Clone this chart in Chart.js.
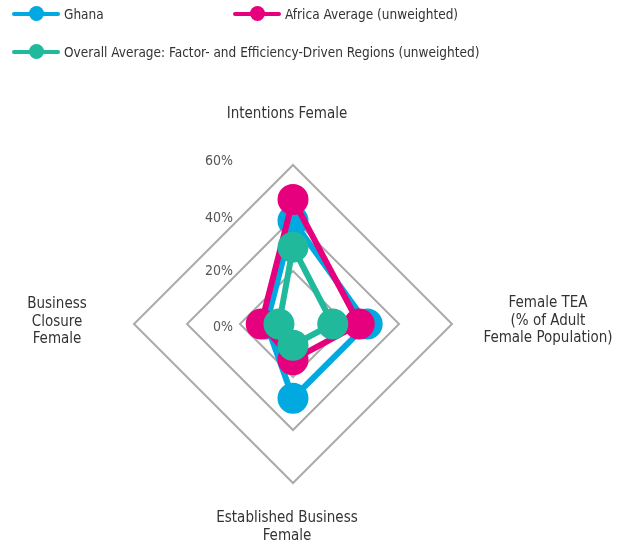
<!DOCTYPE html>
<html>
<head>
<meta charset="utf-8">
<script src="https://cdn.jsdelivr.net/npm/chart.js@4.4.0/dist/chart.umd.min.js"></script>
<style>
  html, body { margin: 0; padding: 0; background: #fff; }
  #wrap { position: relative; width: 627px; height: 547px; }
  #legend { position: absolute; left: 0; top: 0; width: 627px; height: 70px;
    font-family: "Liberation Sans Narrow", "DejaVu Sans Condensed", "Roboto Condensed", sans-serif;
    font-size: 13.5px; color: #333; }
  .item { position: absolute; height: 16px; }
  .item .line { position: absolute; left: 0; top: 6px; width: 48px; height: 4px; border-radius: 2px; }
  .item .dot { position: absolute; left: 17px; top: 0px; width: 15px; height: 15px; border-radius: 50%; }
  .item .txt { position: absolute; left: 52px; top: -2px; white-space: nowrap; line-height: 20px; }
</style>
</head>
<body>
<div id="wrap">
  <canvas id="c" width="627" height="547"></canvas>
  <div id="legend"></div>
</div>
<script>
const categories = ["Intentions Female", "Female TEA (% of Adult Female Population)", "Established Business Female", "Business Closure Female"];
const categoryLines = [["Intentions Female"], ["Female TEA", "(% of Adult", "Female Population)"], ["Established Business", "Female"], ["Business", "Closure", "Female"]];
const seriesNames = ["Ghana", "Africa Average (unweighted)", "Overall Average: Factor- and Efficiency-Driven Regions (unweighted)"];
const ghana = [39, 28, 28, 10];
const africa = [47, 25, 13.5, 12];
const overall = [29, 15, 8, 5.3];
const tickValues = [0, 20, 40, 60];
const tickLabels = ["0%", "20%", "40%", "60%"];

const colors = ["#00a9e0", "#e6007e", "#20b99b"];
const FONT = '"Liberation Sans Narrow", "DejaVu Sans Condensed", sans-serif';

// legend (HTML)
const legendPos = [[12, 6], [233, 6], [12, 44]];
const legend = document.getElementById('legend');
seriesNames.forEach((n, i) => {
  const d = document.createElement('div');
  d.className = 'item';
  d.style.left = legendPos[i][0] + 'px';
  d.style.top = legendPos[i][1] + 'px';
  d.innerHTML = '<div class="line" style="background:' + colors[i] + '"></div><div class="dot" style="background:' + colors[i] + '"></div><div class="txt">' + n + '</div>';
  legend.appendChild(d);
});

// label offsets beyond outer radius, plus small shifts
const labelOffsets = [[51, -6, 0], [96, 0, -3], [44, -6, 0], [77, 0, -2]];

const customLabels = {
  id: 'customLabels',
  afterDraw(chart) {
    const s = chart.scales.r;
    const ctx = chart.ctx;
    ctx.save();
    ctx.fillStyle = '#333';
    ctx.font = '15px ' + FONT;
    ctx.textAlign = 'center';
    ctx.textBaseline = 'middle';
    const lh = 17.5;
    categoryLines.forEach((lines, i) => {
      const o = labelOffsets[i];
      const p = s.getPointPosition(i, s.drawingArea + o[0]);
      const x = p.x + o[1], y = p.y + o[2];
      const y0 = y - (lines.length - 1) * lh / 2;
      lines.forEach((t, k) => ctx.fillText(t, x, y0 + k * lh));
    });
    // tick labels, to the left of centre
    ctx.fillStyle = '#555';
    ctx.font = '14px ' + FONT;
    ctx.textAlign = 'right';
    tickValues.forEach((v, i) => {
      const d = s.getDistanceFromCenterForValue(v);
      ctx.fillText(tickLabels[i], s.xCenter - 60, s.yCenter - d + (v === 0 ? 3 : v === 60 ? -4 : 0));
    });
    ctx.restore();
  }
};

const mk = (label, data, color, order) => ({
  label, data, order,
  borderColor: color, backgroundColor: color,
  pointBackgroundColor: color, pointBorderColor: color,
  borderWidth: 6, pointRadius: 12.5, pointHoverRadius: 12.5, fill: false
});

new Chart(document.getElementById('c'), {
  type: 'radar',
  data: {
    labels: categories,
    datasets: [
      mk(seriesNames[0], ghana, colors[0], 3),
      mk(seriesNames[1], africa, colors[1], 2),
      mk(seriesNames[2], overall, colors[2], 1)
    ]
  },
  options: {
    responsive: false,
    animation: false,
    layout: { padding: { left: 134, right: 175, top: 165, bottom: 64 } },
    plugins: { legend: { display: false }, tooltip: { enabled: false } },
    scales: {
      r: {
        min: 0, max: 60,
        ticks: { display: false, stepSize: 20 },
        grid: { color: '#aaaaaa', lineWidth: 2, circular: false },
        angleLines: { display: false },
        pointLabels: { display: false }
      }
    }
  },
  plugins: [customLabels]
});
</script>
</body>
</html>
